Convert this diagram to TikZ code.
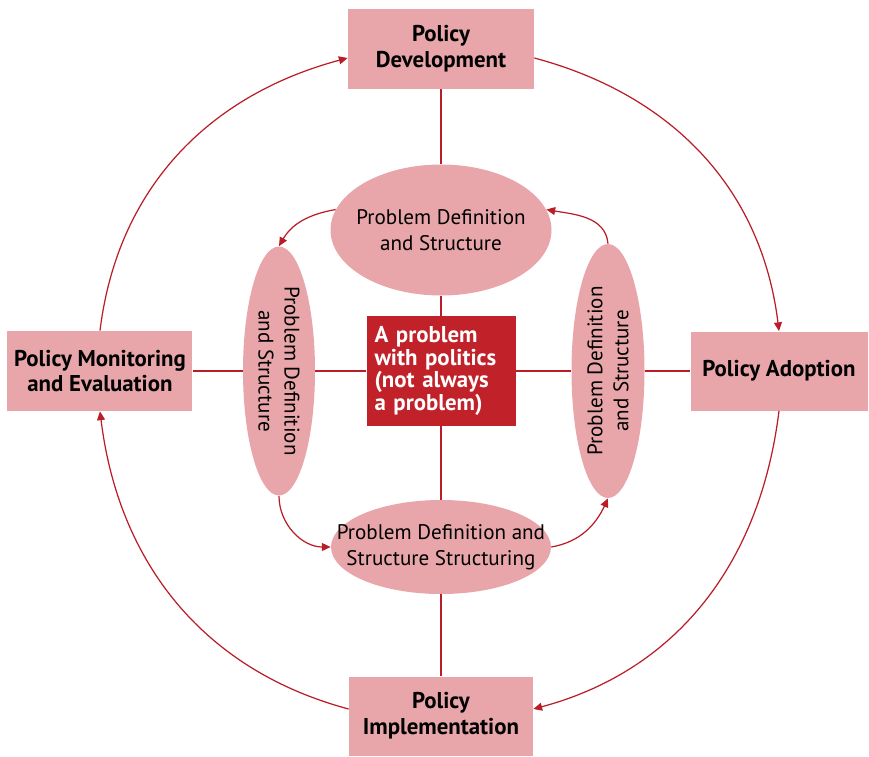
\documentclass[tikz,border=0pt]{standalone}
\usepackage{fontspec}
\setmainfont{PT Sans}
\definecolor{stagepink}{RGB}{232, 166, 170}
\definecolor{corered}{RGB}{193, 33, 41}
\definecolor{linkred}{RGB}{185, 30, 40}
\usetikzlibrary{shapes.geometric, arrows.meta, positioning}

\begin{document}
\begin{tikzpicture}[
  stage/.style={fill=stagepink, minimum width=3.7cm, minimum height=1.6cm, align=center,
    font=\bfseries\fontsize{13}{14.7}\selectfont},
  issue/.style={ellipse, fill=stagepink, inner sep=0pt},
  issuetext/.style={align=center, font=\fontsize{12}{14.7}\selectfont},
  link/.style={draw=linkred, line width=0.7pt},
  cycle/.style={link, -{Triangle[length=5pt, width=4.5pt]}},
]
  \useasboundingbox (-8.82, 7.42) rectangle (8.56, -7.7);

  % Policy stages
  \node[stage, minimum width=3.72cm] (dev) at (0, 6.44) {Policy\\Development};
  \node[stage, minimum width=3.54cm, minimum height=1.58cm] (adopt) at (6.76, 0) {Policy Adoption};
  \node[stage, minimum width=3.68cm, minimum height=1.58cm] (impl) at (0, -6.9) {Policy\\Implementation};
  \node[stage] (monit) at (-6.82, 0) {Policy Monitoring\\and Evaluation};

  % Centre
  \node[fill=corered, text=white, minimum width=2.98cm, minimum height=2.2cm, text width=2.66cm,
    inner sep=0.16cm, align=left, font=\bfseries\fontsize{13}{12.9}\selectfont] (core) at (0, 0)
    {A problem\\with politics\\(not always\\a problem)};

  % Problem definition ellipses
  \node[issue, minimum width=4.42cm, minimum height=2.62cm,
    label={[issuetext]center:Problem Definition\\and Structure}] (deftop) at (0, 2.82) {};
  \node[issue, minimum width=4.4cm, minimum height=1.88cm,
    label={[issuetext]center:Problem Definition and\\Structure Structuring}] (defbot) at (0, -3.52) {};
  \node[issue, rotate=-90, minimum width=4.98cm, minimum height=1.44cm,
    label={[issuetext, rotate=-90]center:Problem Definition\\and Structure}] (defleft) at (-3.24, 0) {};
  \node[issue, rotate=90, minimum width=5.08cm, minimum height=1.46cm,
    label={[issuetext, rotate=90]center:Problem Definition\\and Structure}] (defright) at (3.34, 0) {};

  % Spokes
  \draw[link] (dev) -- (deftop);
  \draw[link] (deftop) -- (core);
  \draw[link] (core) -- (defbot);
  \draw[link] (defbot) -- (impl);
  \draw[link] (monit) -- (defleft);
  \draw[link] (defleft) -- (core);
  \draw[link] (core) -- (defright);
  \draw[link] (defright) -- (adopt);

  % Inner loop
  \draw[cycle] (deftop.169) to[out=190, in=60] (defleft.west);
  \draw[cycle] (defleft.east) to[out=-90, in=180] (defbot.west);
  \draw[cycle] (defbot.east) to[out=10, in=245] (defright.west);
  \draw[cycle] (defright.east) to[out=95, in=-10] (deftop.11);

  % Outer cycle
  \draw[cycle] ([yshift=-0.18cm]dev.east) to[out=-15, in=97] (adopt.north);
  \draw[cycle] (adopt.south) to[out=-97, in=15] ([yshift=0.14cm]impl.east);
  \draw[cycle] ([yshift=0.14cm]impl.west) to[out=165, in=-83] (monit.south);
  \draw[cycle] (monit.north) to[out=83, in=195] ([yshift=-0.18cm]dev.west);
\end{tikzpicture}
\end{document}
